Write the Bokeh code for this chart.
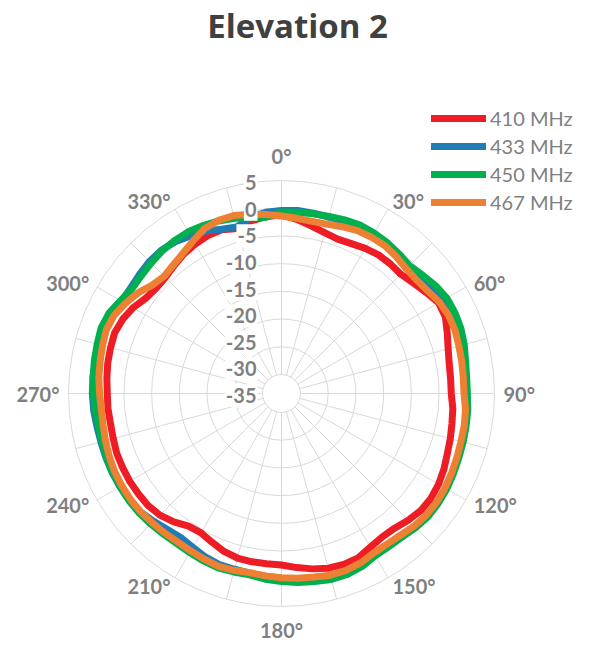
import numpy as np
from bokeh.plotting import figure
from bokeh.models import Range1d, Label, Legend, LegendItem
from bokeh.embed import file_html
from bokeh.resources import INLINE

# ---------------- data ----------------
angles_deg = list(range(0, 360, 5))

gain_410 = [-1.2, -1.9, -2.7, -3.4, -3.8, -3.6, -3.2, -2.9, -2.9, -3.0, -2.4, -1.6,
            -0.7, -0.8, -1.6, -2.3, -2.7, -2.8, -2.8, -2.4, -2.2, -1.9, -1.6, -1.1,
            -0.7, -0.5, -0.6, -1.1, -1.7, -1.8, -1.4, -0.7, -0.6, -0.8, -1.3, -1.9,
            -2.5, -2.6, -2.6, -2.7, -3.1, -3.8, -4.4, -4.2, -3.2, -2.4, -2.0, -1.9,
            -1.8, -1.8, -1.8, -2.0, -2.1, -2.0, -2.0, -1.8, -1.6, -1.5, -1.4, -1.8,
            -2.5, -3.5, -3.9, -3.8, -3.3, -2.7, -2.3, -2.0, -2.0, -2.6, -1.8, -1.4]

gain_433 = [-0.4, -0.3, -0.4, -0.5, -0.4, -0.2, -0.3, -0.5, -0.8, -1.1, -0.7, 0.0,
            0.5, 0.7, 0.6, 0.3, 0.0, -0.1, 0.0, 0.2, 0.25, 0.3, 0.4, 0.6,
            0.8, 0.9, 0.85, 0.55, 0.15, 0.0, 0.0, 0.4, 0.7, 0.7, 0.4, 0.2,
            -0.1, -0.3, -0.5, -0.6, -0.6, -0.9, -1.4, -1.7, -1.4, -0.8, -0.2, 0.1,
            0.2, 0.3, 0.3, 0.3, 0.4, 0.6, 0.7, 0.7, 0.65, 0.5, 0.3, 0.1,
            -0.1, -0.2, 0.0, 0.25, 0.3, 0.0, -0.6, -1.1, -1.9, -2.3, -1.2, -0.6]

gain_450 = [-0.7, -0.6, -0.5, -0.35, -0.1, 0.1, 0.0, -0.2, -0.5, -0.8, -0.2, 0.5,
            1.0, 1.1, 1.0, 0.7, 0.3, 0.1, 0.1, 0.3, 0.4, 0.5, 0.6, 0.8,
            1.0, 1.1, 1.1, 0.8, 0.4, 0.3, 0.4, 1.0, 1.3, 1.3, 1.0, 0.8,
            0.5, 0.2, -0.2, -0.1, 0.05, -0.1, -0.3, -0.4, -0.3, -0.1, 0.1, 0.2,
            0.2, 0.2, 0.15, 0.1, 0.1, 0.3, 0.5, 0.7, 0.85, 1.0, 1.2, 0.9,
            0.1, -0.5, -0.4, -0.15, 0.1, 0.25, 0.25, 0.0, -0.3, -0.7, -1.2, -1.5]

gain_467 = [-1.4, -1.7, -1.9, -1.8, -1.4, -1.0, -0.9, -0.9, -1.2, -1.6, -1.6, -1.2,
            -0.5, -0.15, -0.1, -0.3, -0.4, -0.5, -0.5, -0.1, 0.05, 0.1, 0.25, 0.45,
            0.65, 0.75, 0.7, 0.4, -0.05, -0.25, -0.2, 0.3, 0.55, 0.5, 0.2, 0.05,
            -0.2, -0.4, -0.6, -0.4, -0.25, -0.45, -0.65, -0.75, -0.6, -0.45, -0.25, -0.15,
            -0.15, -0.2, -0.35, -0.55, -0.75, -0.8, -0.6, -0.35, -0.2, 0.0, 0.2, -0.1,
            -0.9, -1.8, -3.0, -3.5, -3.1, -2.5, -1.6, -0.6, -0.2, -0.2, -0.6, -1.0]

series_labels = ["410 MHz", "433 MHz", "450 MHz", "467 MHz"]
series_colors = ["#EE1C25", "#1F7CB4", "#00B04F", "#EE8033"]
radial_ticks = [5, 0, -5, -10, -15, -20, -25, -30, -35]
angle_ticks = list(range(0, 360, 30))
chart_title = "Elevation 2"

# ---------------- layout / scales ----------------
W, H = 594, 648
CX, CY = 281, 393        # polar centre, px from top-left of the canvas
R_OUT = 213.0            # radius of the +5 dB ring (px)
V_MAX = 5.0
V_RING_MIN = -30.0
PX_PER_DB = 194.0 / 35.0
GRID = "#D9D9D9"
TXT = "#7F7F7F"
FONT = "Lato"


def rad(v):
    return R_OUT - (V_MAX - np.asarray(v, dtype=float)) * PX_PER_DB


def to_xy(theta_deg, r):
    t = np.radians(np.asarray(theta_deg, dtype=float))
    return r * np.sin(t), r * np.cos(t)


p = figure(width=W, height=H, output_backend="svg", toolbar_location=None,
           x_range=Range1d(-CX, W - CX), y_range=Range1d(CY - H, CY),
           min_border=0, outline_line_color=None)
p.xaxis.visible = False
p.yaxis.visible = False
p.xgrid.visible = False
p.ygrid.visible = False
p.background_fill_color = "white"

# rings
ring_vals = [v for v in radial_ticks if v >= V_RING_MIN]
p.circle(x=[0] * len(ring_vals), y=[0] * len(ring_vals), radius=[float(rad(v)) for v in ring_vals],
         fill_color=None, line_color=GRID, line_width=1)

# spokes every 15 deg, from the innermost ring to the outer ring
xs, ys = [], []
for a in range(0, 360, 15):
    x0, y0 = to_xy(a, rad(V_RING_MIN))
    x1, y1 = to_xy(a, rad(V_MAX))
    xs.append([float(x0), float(x1)])
    ys.append([float(y0), float(y1)])
p.multi_line(xs=xs, ys=ys, line_color=GRID, line_width=1)

# series
renderers = []
for vals, col in zip([gain_410, gain_433, gain_450, gain_467], series_colors):
    th = angles_deg + [angles_deg[0] + 360]
    vv = vals + [vals[0]]
    x, y = to_xy(th, rad(vv))
    r = p.line(x=x, y=y, line_color=col, line_width=7, line_join="round", line_cap="round")
    renderers.append(r)

# radial tick labels
for v in radial_ticks:
    ly = (v + 35) / 40.0 * R_OUT - 2
    p.add_layout(Label(x=-24, y=ly, text=str(v), text_align="right", text_baseline="middle",
                       text_font=FONT, text_font_style="bold", text_font_size="20px",
                       text_color=TXT, background_fill_color="white", padding=(1, 4)))

# angle labels
for a in angle_ticks:
    r_lab = rad(V_MAX) + 9
    x, y = to_xy(a, r_lab)
    if a in (0, 180):
        align = "center"
    elif a < 180:
        align = "left"
    else:
        align = "right"
    if a == 0:
        base = "bottom"
        y = y + 4
    elif a == 180:
        base = "top"
        y = y - 2
    else:
        base = "middle"
    p.add_layout(Label(x=float(x), y=float(y), text=f"{a}°", text_align=align, text_baseline=base,
                       text_font=FONT, text_font_style="bold", text_font_size="20px",
                       text_color=TXT))

# title
p.add_layout(Label(x=297, y=H - 25, x_units="screen", y_units="screen", text=chart_title,
                   text_align="center", text_baseline="middle",
                   text_font="Open Sans", text_font_style="bold", text_font_size="33px",
                   text_color="#404040"))

# legend
legend = Legend(items=[LegendItem(label=lab, renderers=[r]) for lab, r in zip(series_labels, renderers)],
                location=(431, H - 214), orientation="vertical",
                label_text_font=FONT, label_text_font_size="20px", label_text_color=TXT,
                glyph_width=55, glyph_height=24, label_height=24, label_standoff=4,
                spacing=4, padding=0, margin=0, border_line_color=None,
                background_fill_alpha=0)
p.add_layout(legend)

open("out.html", "w").write(file_html(p, INLINE))
